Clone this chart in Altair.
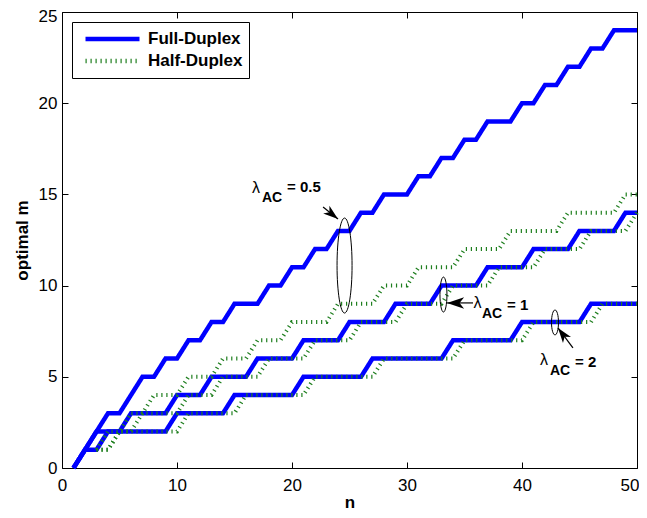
import altair as alt
import pandas as pd

FONT = "Liberation Sans"

# ---------------- data ----------------
n_full = list(range(1, 51))
n_half = list(range(3, 51))

full_lam05 = [0, 1, 2, 3, 3, 4, 5, 5, 6, 6,
              7, 7, 8, 8, 9, 9, 9, 10, 10, 11,
              11, 12, 12, 13, 13, 14, 14, 15, 15, 15,
              16, 16, 17, 17, 18, 18, 19, 19, 19, 20,
              20, 21, 21, 22, 22, 23, 23, 24, 24, 24]
full_lam1 = [0, 1, 2, 2, 2, 3, 3, 3, 3, 4,
             4, 4, 5, 5, 5, 5, 6, 6, 6, 6,
             7, 7, 7, 7, 8, 8, 8, 8, 9, 9,
             9, 9, 10, 10, 10, 10, 11, 11, 11, 11,
             12, 12, 12, 12, 13, 13, 13, 13, 14, 14]
full_lam2 = [0, 1, 1, 2, 2, 2, 2, 2, 2, 3,
             3, 3, 3, 3, 4, 4, 4, 4, 4, 4,
             5, 5, 5, 5, 5, 5, 6, 6, 6, 6,
             6, 6, 6, 7, 7, 7, 7, 7, 7, 8,
             8, 8, 8, 8, 8, 9, 9, 9, 9, 9]

half_lam05 = [1, 1, 2, 3, 3, 4, 4, 4,
              5, 5, 5, 6, 6, 6, 7, 7, 7, 8,
              8, 8, 8, 9, 9, 9, 9, 10, 10, 10,
              11, 11, 11, 11, 12, 12, 12, 12, 13, 13,
              13, 13, 13, 14, 14, 14, 14, 14, 15, 15]
half_lam1 = [1, 2, 2, 2, 3, 3, 3, 3,
             4, 4, 4, 5, 5, 5, 5, 6, 6, 6,
             6, 7, 7, 7, 7, 8, 8, 8, 8, 9,
             9, 9, 9, 10, 10, 10, 10, 11, 11, 11,
             11, 12, 12, 12, 12, 13, 13, 13, 13, 14]
half_lam2 = [1, 1, 2, 2, 2, 2, 2, 2,
             3, 3, 3, 3, 3, 4, 4, 4, 4, 4,
             4, 5, 5, 5, 5, 5, 5, 6, 6, 6,
             6, 6, 6, 6, 7, 7, 7, 7, 7, 7,
             8, 8, 8, 8, 8, 8, 9, 9, 9, 9]

series_names = ["Full-Duplex", "Half-Duplex"]
lambda_names = ["0.5", "1", "2"]

x_ticks = [0, 10, 20, 30, 40, 50]
y_ticks = [0, 5, 10, 15, 20, 25]

# annotations (data coordinates)
ann_lam_n = [16.87, 36.13, 41.91]
ann_lam_m = [15.08, 8.77, 5.65]
ann_sub_n = [17.39, 36.52, 42.43]
ann_sub_m = [14.58, 8.22, 5.10]
ann_eq_n = [19.57, 38.70, 44.61]
ann_eq_m = [15.13, 8.66, 5.54]
ann_eq_text = ["= 0.5", "= 1", "= 2"]

arrow_tail_n = [22.70, 35.74, 44.43]
arrow_tail_m = [14.31, 9.05, 6.58]
arrow_tip_n = [24.0, 33.48, 43.13]
arrow_tip_m = [13.65, 9.05, 7.68]
arrow_angle = [128.7, 270, 323.1]
arrow_size = [400, 520, 400]

ell_n = [24.57, 33.17, 42.87]
ell_m = [11.10, 9.51, 7.98]
ell_height = [95, 35, 25]
ell_ratio = [0.158, 0.2, 0.28]

# ---------------- tables ----------------
def long_table(ns, series, duplex):
    rows = []
    for lam, vals in zip(lambda_names, series):
        for n, m in zip(ns, vals):
            rows.append({"n": n, "m": m, "duplex": duplex, "lam": lam})
    return pd.DataFrame(rows)

full_df = long_table(n_full, [full_lam05, full_lam1, full_lam2], "Full-Duplex")
half_df = long_table(n_half, [half_lam05, half_lam1, half_lam2], "Half-Duplex")

x_scale = alt.Scale(domain=[0, 50], nice=False, zero=False)
y_scale = alt.Scale(domain=[0, 25], nice=False)
color_scale = alt.Scale(domain=series_names, range=["#0000ff", "#1f7f1f"])
dash_scale = alt.Scale(domain=series_names, range=[[1, 0], [1.2, 3.8]])

legend = alt.Legend(
    title=None, orient="top-left", offset=10,
    symbolType="stroke", symbolSize=2916, symbolStrokeWidth=4.5,
    clipHeight=22, rowPadding=0, padding=6, symbolOffset=5, labelOffset=6,
    labelFont=FONT, labelFontSize=17, labelFontWeight="bold", labelColor="black",
    fillColor="white", strokeColor="black", cornerRadius=0,
)

x_bottom = alt.Axis(values=x_ticks, orient="bottom", title="n", offset=-6, tickSize=6,
                    domain=False, grid=False, labelPadding=9, labelFlush=False,
                    labelAlign={"condition": {"test": "datum.value == 50", "value": "right"},
                                "value": "center"},
                    labelOffset={"condition": {"test": "datum.value == 50", "value": 2},
                                 "value": 0},
                    labelFontSize=17, titleFontSize=17, titleFontWeight="bold",
                    titlePadding=1)
y_left = alt.Axis(values=y_ticks, orient="left", title="optimal m", offset=-6, tickSize=6,
                  domain=False, grid=False, labelPadding=5, labelFlush=False,
                  labelOffset={"condition": {"test": "datum.value == 25", "value": 4},
                               "value": 0},
                  labelFontSize=17, titleFontSize=17, titleFontWeight="bold",
                  titlePadding=7)
x_top = alt.Axis(values=x_ticks, orient="top", title=None, offset=-6, tickSize=6,
                 domain=False, grid=False, labels=False)
y_right = alt.Axis(values=y_ticks, orient="right", title=None, offset=-6, tickSize=6,
                   domain=False, grid=False, labels=False)

full_lines = alt.Chart(full_df).mark_line(strokeWidth=4.5).encode(
    x=alt.X("n:Q", scale=x_scale, axis=x_bottom),
    y=alt.Y("m:Q", scale=y_scale, axis=y_left),
    color=alt.Color("duplex:N", scale=color_scale, legend=legend),
    strokeDash=alt.StrokeDash("duplex:N", scale=dash_scale, legend=legend),
    detail="lam:N",
)

half_lines = alt.Chart(half_df).mark_line(strokeWidth=4).encode(
    x=alt.X("n:Q", scale=x_scale, axis=x_top),
    y=alt.Y("m:Q", scale=y_scale, axis=y_right),
    color=alt.Color("duplex:N", scale=color_scale, legend=legend),
    strokeDash=alt.StrokeDash("duplex:N", scale=dash_scale, legend=legend),
    detail="lam:N",
)

ann_df = pd.DataFrame({
    "lam_n": ann_lam_n, "lam_m": ann_lam_m,
    "sub_n": ann_sub_n, "sub_m": ann_sub_m,
    "eq_n": ann_eq_n, "eq_m": ann_eq_m, "eq_text": ann_eq_text,
    "t_n": arrow_tail_n, "t_m": arrow_tail_m,
    "h_n": arrow_tip_n, "h_m": arrow_tip_m,
    "ang": arrow_angle, "asz": arrow_size,
    "lam_glyph": ["λ"] * 3, "sub_text": ["AC"] * 3,
})

base = alt.Chart(ann_df)

lam_text = base.mark_text(font=FONT, fontSize=16, align="center", baseline="alphabetic",
                          color="black").encode(
    x=alt.X("lam_n:Q", scale=x_scale, axis=None),
    y=alt.Y("lam_m:Q", scale=y_scale, axis=None),
    text="lam_glyph:N")
sub_text = base.mark_text(font=FONT, fontSize=14, fontWeight="bold", align="left",
                          baseline="alphabetic", color="black").encode(
    x=alt.X("sub_n:Q", scale=x_scale, axis=None),
    y=alt.Y("sub_m:Q", scale=y_scale, axis=None),
    text="sub_text:N")
eq_text = base.mark_text(font=FONT, fontSize=15, fontWeight="bold", align="left",
                         baseline="alphabetic", color="black").encode(
    x=alt.X("eq_n:Q", scale=x_scale, axis=None),
    y=alt.Y("eq_m:Q", scale=y_scale, axis=None),
    text="eq_text:N")

arrow_lines = base.mark_rule(color="black", strokeWidth=1.2).encode(
    x=alt.X("t_n:Q", scale=x_scale, axis=None),
    y=alt.Y("t_m:Q", scale=y_scale, axis=None),
    x2="h_n:Q", y2="h_m:Q")

ARROW_PATH = "M0,0 L0.5,1.5 L0,1.1 L-0.5,1.5 Z"
arrow_heads = base.mark_point(shape=ARROW_PATH, filled=True, color="black",
                              opacity=1, strokeWidth=0).encode(
    x=alt.X("h_n:Q", scale=x_scale, axis=None),
    y=alt.Y("h_m:Q", scale=y_scale, axis=None),
    angle=alt.Angle("ang:Q", scale=None),
    size=alt.Size("asz:Q", scale=None, legend=None))

ellipse_layers = []
for en, em, eh, er in zip(ell_n, ell_m, ell_height, ell_ratio):
    path = f"M{-er},0 A{er},1 0 1,1 {er},0 A{er},1 0 1,1 {-er},0 Z"
    edf = pd.DataFrame({"n": [en], "m": [em]})
    ellipse_layers.append(
        alt.Chart(edf).mark_point(shape=path, size=eh * eh, filled=False,
                                  stroke="black", strokeWidth=1, opacity=1).encode(
            x=alt.X("n:Q", scale=x_scale, axis=None),
            y=alt.Y("m:Q", scale=y_scale, axis=None))
    )

chart = alt.layer(
    full_lines, half_lines, *ellipse_layers, arrow_lines, arrow_heads,
    lam_text, sub_text, eq_text,
).resolve_axis(x="independent", y="independent").properties(
    width=575, height=456,
    autosize=alt.AutoSizeParams(type="none"),
    padding={"left": 54, "top": 4, "right": 2, "bottom": 42},
    background="white",
).configure_view(
    stroke="black", strokeWidth=1
).configure_axis(
    labelFont=FONT, titleFont=FONT, labelColor="black", titleColor="black",
    tickColor="black", tickWidth=1,
)

chart.save("out.html", embed_options={"renderer": "svg", "actions": False})
